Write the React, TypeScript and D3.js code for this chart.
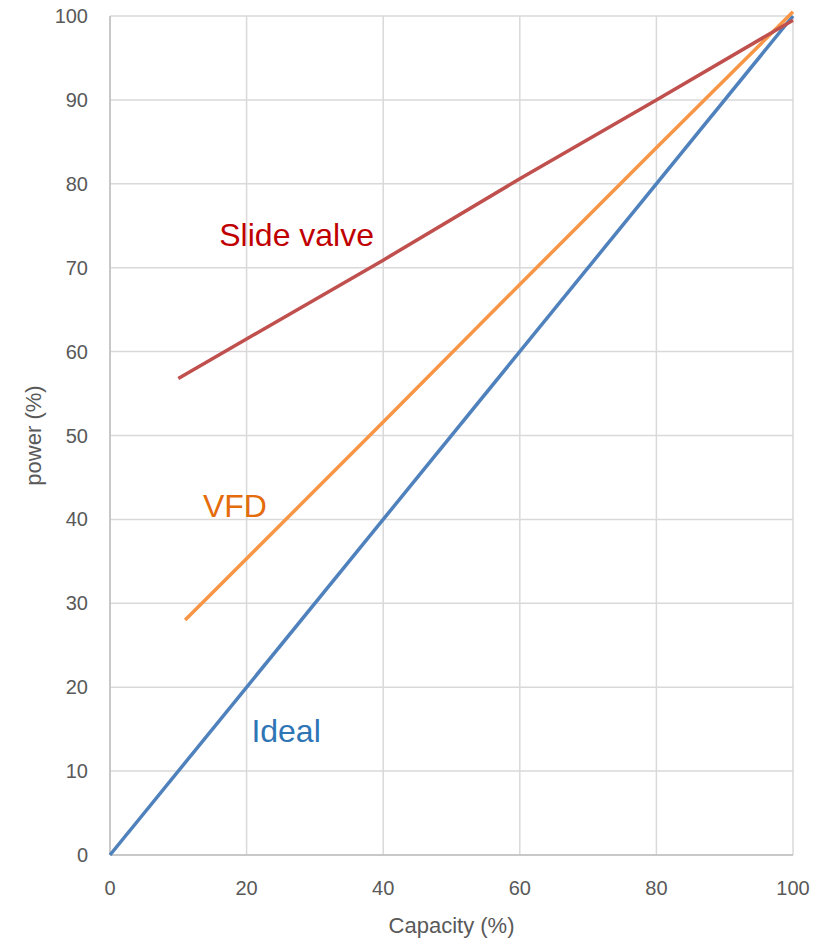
import React, { useRef, useEffect } from "react";
import * as d3 from "d3";

// series values (capacity %, power %)
const idealX = [0, 100];
const idealY = [0, 100];
const vfdX = [11, 40, 60, 80, 100];
const vfdY = [28, 51.6, 68, 84.3, 100.5];
const slideX = [10, 40, 60, 80, 100];
const slideY = [56.8, 70.9, 80.6, 90, 99.5];

const xTicks = [0, 20, 40, 60, 80, 100];
const yTicks = [0, 10, 20, 30, 40, 50, 60, 70, 80, 90, 100];

// label names, colours, anchor points in data space
const labelNames = ["Slide valve", "VFD", "Ideal"];
const labelColors = ["#C00000", "#E46C0A", "#2E75B6"];
const labelX = [16, 13.6, 20.7];
const labelY = [72.6, 40.3, 13.5];

const App = () => {
  const container = useRef<SVGSVGElement | null>(null);

  const width = 822;
  const height = 940;
  const margin = { top: 16, right: 29, bottom: 85, left: 110 };

  useEffect(() => {
    const svg = d3.select(container.current);
    svg.selectAll("*").remove();

    const xScale = d3
      .scaleLinear()
      .domain([0, 100])
      .range([margin.left, width - margin.right]);
    const yScale = d3
      .scaleLinear()
      .domain([0, 100])
      .range([height - margin.bottom, margin.top]);

    const font = "Liberation Sans, Arial, sans-serif";

    // gridlines
    svg
      .append("g")
      .selectAll("line")
      .data(yTicks)
      .enter()
      .append("line")
      .attr("x1", xScale(0))
      .attr("x2", xScale(100))
      .attr("y1", (d) => yScale(d))
      .attr("y2", (d) => yScale(d))
      .attr("stroke", "#d9d9d9")
      .attr("stroke-width", 1.5);

    svg
      .append("g")
      .selectAll("line")
      .data(xTicks)
      .enter()
      .append("line")
      .attr("x1", (d) => xScale(d))
      .attr("x2", (d) => xScale(d))
      .attr("y1", yScale(0))
      .attr("y2", yScale(100))
      .attr("stroke", "#d9d9d9")
      .attr("stroke-width", 1.5);

    // axis lines
    svg
      .append("line")
      .attr("x1", xScale(0))
      .attr("x2", xScale(0))
      .attr("y1", yScale(0))
      .attr("y2", yScale(100))
      .attr("stroke", "#bfbfbf")
      .attr("stroke-width", 1.5);
    svg
      .append("line")
      .attr("x1", xScale(0))
      .attr("x2", xScale(100))
      .attr("y1", yScale(0))
      .attr("y2", yScale(0))
      .attr("stroke", "#bfbfbf")
      .attr("stroke-width", 1.5);

    // tick labels
    svg
      .append("g")
      .selectAll("text")
      .data(yTicks)
      .enter()
      .append("text")
      .attr("x", xScale(0) - 22)
      .attr("y", (d) => yScale(d) + 7)
      .attr("text-anchor", "end")
      .style("font-family", font)
      .style("font-size", "20px")
      .style("fill", "#595959")
      .text((d) => d);

    svg
      .append("g")
      .selectAll("text")
      .data(xTicks)
      .enter()
      .append("text")
      .attr("x", (d) => xScale(d))
      .attr("y", yScale(0) + 40)
      .attr("text-anchor", "middle")
      .style("font-family", font)
      .style("font-size", "20px")
      .style("fill", "#595959")
      .text((d) => d);

    // axis titles
    svg
      .append("text")
      .attr("x", (xScale(0) + xScale(100)) / 2)
      .attr("y", height - 7)
      .attr("text-anchor", "middle")
      .style("font-family", font)
      .style("font-size", "22px")
      .style("fill", "#595959")
      .text("Capacity (%)");

    svg
      .append("text")
      .attr(
        "transform",
        `translate(41, ${(yScale(0) + yScale(100)) / 2}) rotate(-90)`
      )
      .attr("text-anchor", "middle")
      .style("font-family", font)
      .style("font-size", "22px")
      .style("fill", "#595959")
      .text("power (%)");

    // lines
    const line = d3
      .line<[number, number]>()
      .x((d) => xScale(d[0]))
      .y((d) => yScale(d[1]));

    const series = [
      { xs: idealX, ys: idealY, color: "#4F81BD" },
      { xs: vfdX, ys: vfdY, color: "#F79646" },
      { xs: slideX, ys: slideY, color: "#C0504D" },
    ];

    series.forEach((s) => {
      svg
        .append("path")
        .datum(s.xs.map((x, i) => [x, s.ys[i]] as [number, number]))
        .attr("d", line)
        .attr("fill", "none")
        .attr("stroke", s.color)
        .attr("stroke-width", 3.5)
        .attr("stroke-linejoin", "round");
    });

    // annotations
    svg
      .append("g")
      .selectAll("text")
      .data(labelNames)
      .enter()
      .append("text")
      .attr("x", (d, i) => xScale(labelX[i]))
      .attr("y", (d, i) => yScale(labelY[i]))
      .style("font-family", font)
      .style("font-size", "32px")
      .style("fill", (d, i) => labelColors[i])
      .text((d) => d);
  }, []);

  return (
    <svg
      ref={container}
      width={width}
      height={height}
      style={{ position: "absolute", left: 0, top: 0, background: "#fff" }}
    />
  );
};

export default App;
